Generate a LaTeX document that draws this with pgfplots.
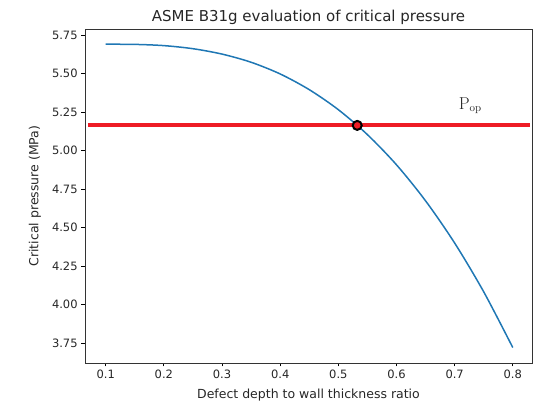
\documentclass[border=0pt]{standalone}
\usepackage[no-math]{fontspec}
\setmainfont{DejaVu Sans}
\usepackage{pgfplots}
\pgfplotsset{compat=1.18}
\definecolor{mplblue}{HTML}{1F77B4}
\definecolor{mplred}{HTML}{EE1C25}
\begin{document}
\fontsize{11}{13}\selectfont
\begin{tikzpicture}[x=1pt,y=1pt]
\useasboundingbox (0,0) rectangle (542,403);
\begin{axis}[
  at={(85pt,40pt)}, anchor=south west,
  scale only axis, width=447pt, height=334pt,
  xmin=0.0644, xmax=0.833, ymin=3.62, ymax=5.789,
  xtick={0.1,0.2,0.3,0.4,0.5,0.6,0.7,0.8},
  ytick={3.75,4.00,4.25,4.50,4.75,5.00,5.25,5.50,5.75},
  xticklabel style={/pgf/number format/.cd,fixed,precision=1},
  yticklabel style={/pgf/number format/.cd,fixed,fixed zerofill,precision=2},
  /pgf/number format/assume math mode=true,
  tick align=outside, tick pos=left,
  major tick length=3.5pt,
  every tick/.style={black, line width=0.8pt},
  axis line style={line width=0.8pt, black!80},
  tick label style={font=\fontsize{11.5}{13}\selectfont, text=black!85},
  every axis title shift=0pt,
  title={ASME B31g evaluation of critical pressure},
  title style={font=\fontsize{15}{17}\selectfont, at={(axis description cs:0.5,1)}, anchor=base, yshift=7.5pt, text=black!85},
  xlabel={Defect depth to wall thickness ratio},
  ylabel={Critical pressure (MPa)},
  xlabel style={font=\fontsize{12.5}{15}\selectfont, at={(axis description cs:0.5,-0.0958)}, anchor=center, text=black!85},
  ylabel style={font=\fontsize{12.5}{15}\selectfont, at={(axis description cs:-0.1119,0.5)}, anchor=center, text=black!85},
  clip=false,
]
\addplot[mplblue, line width=1.5pt, smooth] coordinates {
(0.10,5.690) (0.15,5.689) (0.20,5.681) (0.25,5.661) (0.30,5.626)
(0.35,5.573) (0.40,5.497) (0.45,5.395) (0.50,5.265) (0.55,5.103)
(0.60,4.907) (0.65,4.673) (0.70,4.399) (0.75,4.082) (0.80,3.720)
};
\addplot[mplred, line width=4pt] coordinates {(0.0695,5.163) (0.830,5.163)};
\addplot[only marks, mark=*, mark size=4.5pt, mark options={fill=mplred, draw=black, line width=2pt}] coordinates {(0.5325,5.163)};
\node[font=\fontsize{16}{18}\selectfont, text=black!85] at (axis cs:0.727,5.29) {$\mathrm{P_{op}}$};
\end{axis}
\end{tikzpicture}
\end{document}
